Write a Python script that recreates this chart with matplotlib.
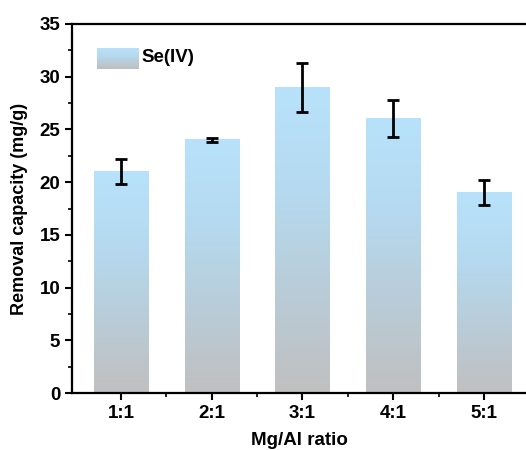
import numpy as np
import matplotlib
matplotlib.use('Agg')
import matplotlib.pyplot as plt
from matplotlib.colors import LinearSegmentedColormap
from matplotlib.ticker import MultipleLocator

# data
ratios = ['1:1', '2:1', '3:1', '4:1', '5:1']
capacity = [21.0, 24.0, 29.0, 26.0, 19.0]
errors = [1.2, 0.15, 2.3, 1.75, 1.2]
series_name = 'Se(IV)'

plt.rcParams['font.family'] = 'Liberation Sans'
plt.rcParams['font.weight'] = 'bold'

# blue at the top of each bar, grey at the bottom
cmap = LinearSegmentedColormap.from_list(
    'bluegrey', ['#c0c0c0', '#b9ccd8', '#b5daf0', '#b8e2fb'])
grad = np.linspace(0, 1, 256).reshape(-1, 1)

fig = plt.figure(figsize=(5.26, 4.5), dpi=100)
# axes runs to the right edge of the picture, as in the reference
ax = fig.add_axes([72 / 526, 1 - 393 / 450, 454 / 526, 369 / 450])

x = np.arange(1, len(ratios) + 1)
width = 0.6
for xi, val in zip(x, capacity):
    ax.imshow(grad, cmap=cmap, origin='lower', aspect='auto',
              extent=(xi - width / 2, xi + width / 2, 0, val), zorder=2)

ax.errorbar(x, capacity, yerr=errors, fmt='none', ecolor='black',
            elinewidth=2, capsize=4.5, capthick=2, zorder=3)

ax.set_xlim(0.46, 5.463)
ax.set_ylim(0, 35)
ax.set_xticks(x)
ax.set_xticklabels(ratios)
ax.set_xticks([1.5, 2.5, 3.5, 4.5], minor=True)
ax.yaxis.set_major_locator(MultipleLocator(5))
ax.yaxis.set_minor_locator(MultipleLocator(2.5))
ax.tick_params(axis='both', which='major', direction='out', length=5,
               width=1.5, labelsize=13.5)
ax.tick_params(axis='both', which='minor', direction='out', length=3,
               width=1.2)
for lab in ax.get_xticklabels() + ax.get_yticklabels():
    lab.set_fontweight('bold')
for s in ax.spines.values():
    s.set_linewidth(1.6)
ax.spines['right'].set_visible(False)

ax.set_xlabel('Mg/Al ratio', fontsize=13.5, fontweight='bold', labelpad=7)
ax.set_ylabel('Removal capacity (mg/g)', fontsize=13, fontweight='bold',
              labelpad=8)

# legend: gradient swatch in its own small axes, label as text
sw = fig.add_axes([97 / 526, 1 - 69 / 450, 42 / 526, 21 / 450])
sw.imshow(grad, cmap=cmap, origin='lower', aspect='auto')
sw.axis('off')
fig.text(141 / 526, 1 - 58 / 450, series_name, fontsize=13.5,
         fontweight='bold', va='center', ha='left')

fig.savefig('out.png', dpi=100)
